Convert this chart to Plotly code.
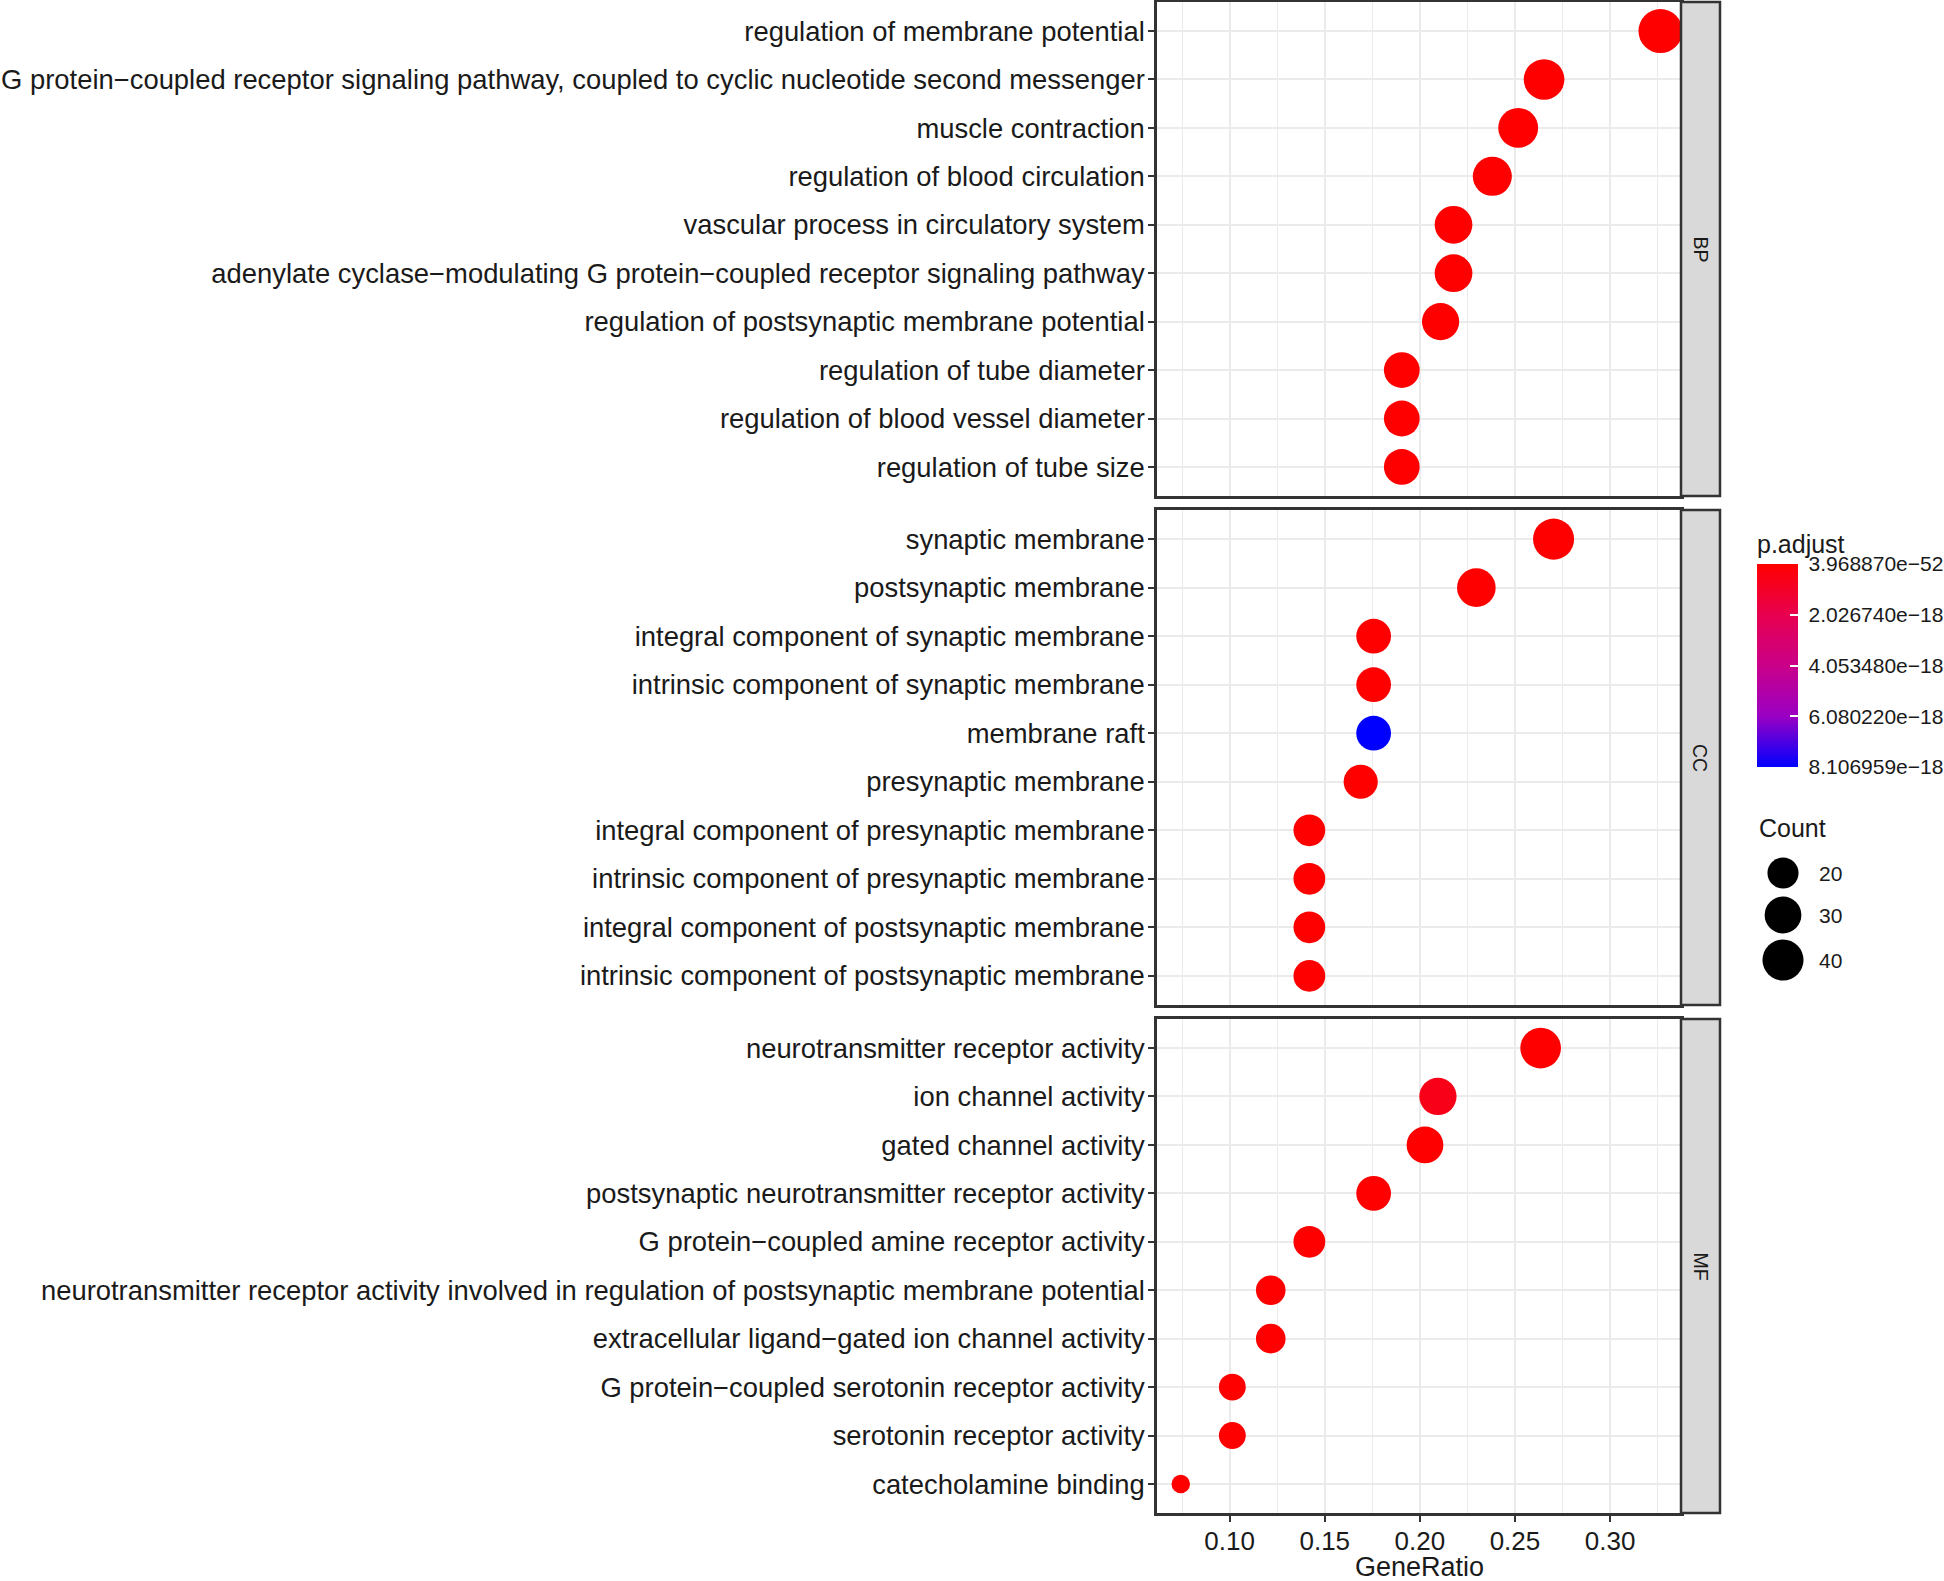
import numpy as np
import plotly.graph_objects as go

# ---------------- data ----------------
bp_terms = [
    "regulation of membrane potential",
    "G protein\u2212coupled receptor signaling pathway, coupled to cyclic nucleotide second messenger",
    "muscle contraction",
    "regulation of blood circulation",
    "vascular process in circulatory system",
    "adenylate cyclase\u2212modulating G protein\u2212coupled receptor signaling pathway",
    "regulation of postsynaptic membrane potential",
    "regulation of tube diameter",
    "regulation of blood vessel diameter",
    "regulation of tube size",
]
bp_ratio = [0.3265, 0.2653, 0.2517, 0.2381, 0.2177, 0.2177, 0.2109, 0.1905, 0.1905, 0.1905]
bp_count = [48, 39, 37, 35, 32, 32, 31, 28, 28, 28]
bp_padj = [3.968870e-52, 2.1e-40, 5.3e-36, 1.4e-33, 2.2e-30, 3.1e-30, 8.0e-29, 4.4e-27, 4.4e-27, 6.9e-27]

cc_terms = [
    "synaptic membrane",
    "postsynaptic membrane",
    "integral component of synaptic membrane",
    "intrinsic component of synaptic membrane",
    "membrane raft",
    "presynaptic membrane",
    "integral component of presynaptic membrane",
    "intrinsic component of presynaptic membrane",
    "integral component of postsynaptic membrane",
    "intrinsic component of postsynaptic membrane",
]
cc_ratio = [0.2703, 0.2297, 0.1757, 0.1757, 0.1757, 0.1689, 0.1419, 0.1419, 0.1419, 0.1419]
cc_count = [40, 34, 26, 26, 26, 25, 21, 21, 21, 21]
cc_padj = [1.2e-33, 4.5e-30, 2.6e-24, 5.1e-24, 8.106959e-18, 3.3e-22, 6.0e-21, 1.1e-20, 2.0e-20, 3.2e-20]

mf_terms = [
    "neurotransmitter receptor activity",
    "ion channel activity",
    "gated channel activity",
    "postsynaptic neurotransmitter receptor activity",
    "G protein\u2212coupled amine receptor activity",
    "neurotransmitter receptor activity involved in regulation of postsynaptic membrane potential",
    "extracellular ligand\u2212gated ion channel activity",
    "G protein\u2212coupled serotonin receptor activity",
    "serotonin receptor activity",
    "catecholamine binding",
]
mf_ratio = [0.2635, 0.2095, 0.2027, 0.1757, 0.1419, 0.1216, 0.1216, 0.1014, 0.1014, 0.0743]
mf_count = [39, 31, 30, 26, 21, 18, 18, 15, 15, 11]
mf_padj = [2.5e-38, 6.0e-19, 1.0e-20, 3.0e-27, 4.1e-25, 1.6e-22, 2.3e-21, 5.5e-21, 5.5e-21, 1.8e-20]

facets = ["BP", "CC", "MF"]
x_ticks = [0.10, 0.15, 0.20, 0.25, 0.30]
padj_ticks = [3.968870e-52, 2.026740e-18, 4.053480e-18, 6.080220e-18, 8.106959e-18]
padj_labels = ["3.968870e\u221252", "2.026740e\u221218", "4.053480e\u221218",
               "6.080220e\u221218", "8.106959e\u221218"]
count_breaks = [20, 30, 40]

# ---------------- layout constants ----------------
W, H = 1944, 1581
L, R, T, B = 1157, 0, 2, 68
pw, ph = W - L - R, H - T - B
FONT = "Liberation Sans, Arial, Helvetica, sans-serif"
TXT = "#1A1A1A"
BORDER = "#333333"
GRID = "#EBEBEB"
LABEL_SIZE = 27.4


def fx(x):
    return (x - L) / pw


def fy(y):
    return 1 - (y - T) / ph


panel_px = [(2, 496), (510, 1005), (1019, 1513)]
x_dom = [0, fx(1681)]
x_range = [0.0618, 0.3373]

all_counts = bp_count + cc_count + mf_count
cmin_c, cmax_c = min(all_counts), max(all_counts)


def dot_size(c):
    c = np.asarray(c, dtype=float)
    return 18.5 + 25.5 * np.sqrt((c - cmin_c) / (cmax_c - cmin_c))


all_p = bp_padj + cc_padj + mf_padj
colorscale = [[0.0, "#0000FF"], [0.25, "#9A00C3"], [0.5, "#CA0089"],
              [0.75, "#E8004F"], [1.0, "#FF0000"]]

fig = go.Figure()
groups = [(bp_terms, bp_ratio, bp_count, bp_padj),
          (cc_terms, cc_ratio, cc_count, cc_padj),
          (mf_terms, mf_ratio, mf_count, mf_padj)]

layout_axes = {}
shapes = []
annotations = []
for i, (terms, ratio, count, padj) in enumerate(groups):
    k = "" if i == 0 else str(i + 1)
    fig.add_trace(go.Scatter(
        x=ratio, y=terms, mode="markers",
        xaxis="x" + k, yaxis="y" + k,
        marker=dict(size=dot_size(count), color=[-p for p in padj],
                    coloraxis="coloraxis", line=dict(width=0), opacity=1),
        showlegend=False, hoverinfo="x+y",
    ))
    top, bot = panel_px[i]
    dom = [fy(bot), fy(top)]
    last = i == len(groups) - 1
    layout_axes["xaxis" + k] = dict(
        domain=x_dom, anchor="y" + k, range=x_range,
        tickvals=x_ticks, tickformat=".2f",
        showticklabels=last, ticks="outside" if last else "",
        ticklen=6, tickwidth=2, tickcolor=BORDER,
        ticklabelstandoff=-3,
        tickfont=dict(size=26, color=TXT, family=FONT),
        showgrid=True, gridcolor=GRID, gridwidth=2,
        minor=dict(tick0=0.075, dtick=0.05, showgrid=True, gridcolor=GRID, gridwidth=1, ticks=""),
        showline=True, linecolor=BORDER, linewidth=2.5, mirror=True, zeroline=False,
    )
    if i > 0:
        layout_axes["xaxis" + k]["matches"] = "x"
    n = len(terms)
    layout_axes["yaxis" + k] = dict(
        domain=dom, anchor="x" + k, type="category", categoryarray=terms,
        range=[n - 0.4, -0.6],
        ticks="outside", ticklen=6, tickwidth=2, tickcolor=BORDER,
        ticklabelstandoff=-2,
        tickfont=dict(size=LABEL_SIZE, color=TXT, family=FONT),
        showgrid=True, gridcolor=GRID, gridwidth=2,
        showline=True, linecolor=BORDER, linewidth=2.5, mirror=True, zeroline=False,
    )
    # facet strip
    shapes.append(dict(type="rect", xref="paper", yref="paper",
                       x0=fx(1681), x1=fx(1720), y0=dom[0], y1=dom[1],
                       fillcolor="#D9D9D9", line=dict(color=BORDER, width=2.5), layer="above"))
    annotations.append(dict(text=facets[i], xref="paper", yref="paper",
                            x=(fx(1681) + fx(1720)) / 2, y=(dom[0] + dom[1]) / 2,
                            xanchor="center", yanchor="middle",
                            showarrow=False, textangle=90,
                            font=dict(size=19.5, color=TXT, family=FONT)))

# x axis title
annotations.append(dict(text="GeneRatio", xref="paper", yref="paper",
                        x=(x_dom[0] + x_dom[1]) / 2, y=fy(1567),
                        xanchor="center", yanchor="middle", showarrow=False,
                        font=dict(size=27, color=TXT, family=FONT)))

# size legend (own hidden axes in pixel units)
legend_y = [873, 915, 960]
fig.add_trace(go.Scatter(
    x=[1783] * len(count_breaks), y=legend_y, mode="markers",
    xaxis="x4", yaxis="y4",
    marker=dict(size=dot_size(count_breaks), color="#000000", opacity=1, line=dict(width=0)),
    showlegend=False, hoverinfo="skip",
))
layout_axes["xaxis4"] = dict(domain=[fx(1740), 1], range=[1740, 1944], visible=False,
                             anchor="y4", fixedrange=True)
layout_axes["yaxis4"] = dict(domain=[fy(1000), fy(800)], range=[1000, 800], visible=False,
                             anchor="x4", fixedrange=True)
for c, yy in zip(count_breaks, legend_y):
    annotations.append(dict(text=str(c), xref="x4", yref="y4", x=1817, y=yy,
                            xanchor="left", yanchor="middle", showarrow=False,
                            font=dict(size=21, color=TXT, family=FONT)))
annotations.append(dict(text="Count", xref="x4", yref="y4", x=1757, y=828,
                        xanchor="left", yanchor="middle", showarrow=False,
                        font=dict(size=25, color=TXT, family=FONT)))

fig.update_layout(
    width=W, height=H,
    margin=dict(l=L, r=R, t=T, b=B, autoexpand=False),
    paper_bgcolor="white", plot_bgcolor="white",
    font=dict(family=FONT, color=TXT),
    shapes=shapes, annotations=annotations,
    coloraxis=dict(
        cmin=-max(all_p), cmax=-min(all_p), colorscale=colorscale,
        colorbar=dict(
            x=fx(1757), xanchor="left", y=fy(649), yanchor="middle",
            len=236, lenmode="pixels", thickness=41, thicknessmode="pixels",
            xpad=0, ypad=0, outlinewidth=0,
            tickvals=[-p for p in padj_ticks],
            ticktext=["\u00a0" + t for t in padj_labels],
            ticks="inside", tickcolor="white", ticklen=8, tickwidth=1.5,
            tickfont=dict(size=21, color=TXT, family=FONT),
            title=dict(text="p.adjust", side="top", font=dict(size=25, color=TXT, family=FONT)),
        ),
    ),
    **layout_axes,
)

fig.write_html("out.html", config={"displayModeBar": False},
               post_script="document.body.style.margin='0';document.body.style.overflow='hidden';")
